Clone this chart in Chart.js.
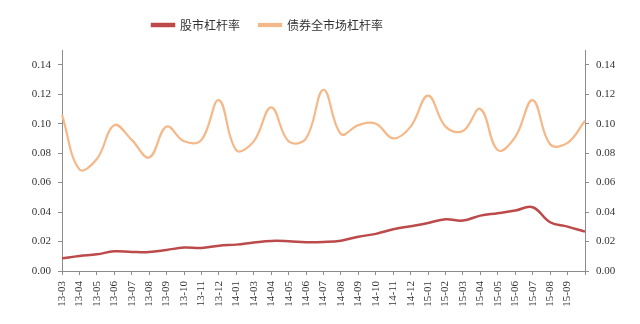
<!DOCTYPE html>
<html>
<head>
<meta charset="utf-8">
<script src="https://cdn.jsdelivr.net/npm/chart.js@4/dist/chart.umd.min.js"></script>
<style>
  html, body { margin: 0; padding: 0; background: #fff; }
  #wrap { width: 640px; height: 324px; }
</style>
</head>
<body>
<div id="wrap"><canvas id="chart"></canvas></div>
<script>
// 月份 (14-02 在原图中缺失, 最后一期无标签)
const months = [
    '13-03', '13-04', '13-05', '13-06', '13-07', '13-08', '13-09', '13-10', '13-11', '13-12',
    '14-01', '14-03', '14-04', '14-05', '14-06', '14-07', '14-08', '14-09', '14-10', '14-11', '14-12',
    '15-01', '15-02', '15-03', '15-04', '15-05', '15-06', '15-07', '15-08', '15-09', '15-10'
];

// 股市杠杆率
const stockLeverage = [
    0.0086, 0.0102, 0.0113, 0.0134, 0.0129, 0.0129, 0.0143, 0.0159, 0.0156, 0.0172,
    0.0179, 0.0193, 0.0204, 0.0202, 0.0195, 0.0197, 0.0206, 0.0233, 0.0252, 0.0283, 0.0304,
    0.0326, 0.0351, 0.0342, 0.0376, 0.0392, 0.0410, 0.0433, 0.0331, 0.0301, 0.0267
];

// 债券全市场杠杆率
const bondLeverage = [
    0.106, 0.069, 0.076, 0.099, 0.089, 0.077, 0.098, 0.088, 0.089, 0.116,
    0.082, 0.088, 0.111, 0.088, 0.090, 0.123, 0.093, 0.099, 0.100, 0.090, 0.098,
    0.119, 0.098, 0.095, 0.110, 0.082, 0.091, 0.116, 0.086, 0.087, 0.102
];

const yTicks = [0, 0.02, 0.04, 0.06, 0.08, 0.10, 0.12, 0.14];

const SERIF = "'Liberation Serif', 'Times New Roman', serif";
const CJK = "'Noto Sans CJK SC', sans-serif";
const AXIS_COLOR = '#8c8c8c';
const TEXT_COLOR = '#333333';

// 图例在原图中略偏左, 且绘图区上沿更低
const legendShift = {
    id: 'legendShift',
    afterLayout(chart) {
        const lg = chart.legend;
        if (!lg) return;
        lg.right -= 105;
        lg.top -= 9;
        lg.bottom -= 9;
    },
};

function yAxis(position, width) {
    return {
        position: position,
        min: 0,
        max: 0.15,
        afterBuildTicks: (scale) => {
            scale.ticks = yTicks.map(v => ({ value: v }));
        },
        afterFit: (scale) => { scale.width = width; },
        ticks: {
            color: TEXT_COLOR,
            font: { family: SERIF, size: 11 },
            padding: 7,
            callback: (v) => Number(v).toFixed(2),
        },
        grid: { drawOnChartArea: false, tickLength: 4, color: AXIS_COLOR },
        border: { color: AXIS_COLOR },
    };
}

new Chart(document.getElementById('chart'), {
    type: 'line',
    data: {
        labels: months,
        datasets: [
            {
                label: '股市杠杆率',
                data: stockLeverage,
                borderColor: '#bc4a4a',
                backgroundColor: '#bc4a4a',
                borderWidth: 2.5,
                tension: 0.4,
                pointRadius: 0,
                yAxisID: 'y',
            },
            {
                label: '债券全市场杠杆率',
                data: bondLeverage,
                borderColor: '#f5b888',
                backgroundColor: '#f5b888',
                borderWidth: 2.2,
                tension: 0.4,
                pointRadius: 0,
                yAxisID: 'y',
            },
        ],
    },
    options: {
        responsive: true,
        maintainAspectRatio: false,
        animation: false,
        layout: { padding: { top: 9, left: 0, right: 0, bottom: 0 } },
        plugins: {
            legend: {
                position: 'top',
                labels: {
                    color: TEXT_COLOR,
                    font: { family: CJK, size: 12 },
                    boxWidth: 22,
                    boxHeight: 2,
                    padding: 19,
                },
            },
            tooltip: { enabled: false },
        },
        scales: {
            x: {
                offset: false,
                afterFit: (scale) => { scale.height = 53; },
                ticks: {
                    color: TEXT_COLOR,
                    font: { family: SERIF, size: 11 },
                    autoSkip: false,
                    minRotation: 90,
                    maxRotation: 90,
                    padding: 6,
                    callback: (v, i) => (i === months.length - 1 ? '' : months[i]),
                },
                grid: { drawOnChartArea: false, tickLength: 4, color: AXIS_COLOR, offset: false },
                border: { color: AXIS_COLOR },
            },
            y: yAxis('left', 62),
            y2: yAxis('right', 55),
        },
    },
    plugins: [legendShift],
});
</script>
</body>
</html>
